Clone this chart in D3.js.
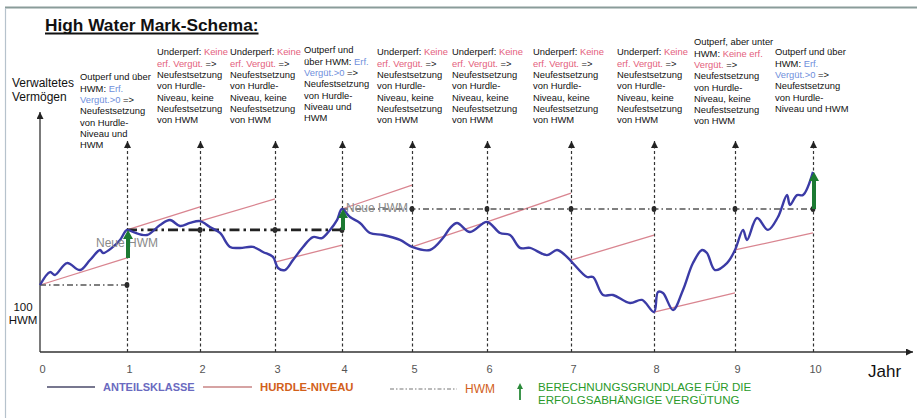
<!DOCTYPE html>
<html lang="de">
<head>
<meta charset="UTF-8">
<title>High Water Mark-Schema</title>
<script src="https://cdn.jsdelivr.net/npm/d3@7"></script>
<style>
    html, body {
        margin: 0;
        background: #fff;
    }
    svg {
        display: block;
        font-family: 'Liberation Sans', Arial, sans-serif;
    }
</style>
</head>
<body>
<div id="vis"></div>
<script>
// years on the x axis
var years = [0, 1, 2, 3, 4, 5, 6, 7, 8, 9, 10];

// Anteilsklasse: [Jahr, Wert], 100 = HWM at start
var anteil = [
    [0, 100], [0.115, 107.6], [0.172, 105.9], [0.31, 112.9], [0.46, 108.8], [0.575, 114.7],
    [0.69, 120.6], [0.724, 118.8], [0.839, 122.4], [0.92, 126.5], [1, 132.4],
    [1.082, 131.2], [1.274, 129.4], [1.452, 135.3], [1.589, 138.2], [1.726, 134.7], [1.863, 136.5], [2, 137.6],
    [2.133, 134.1], [2.267, 130.6], [2.4, 122.4], [2.533, 121.8], [2.707, 122.4], [2.84, 119.4], [2.973, 116.5],
    [3.045, 110.0], [3.149, 108.8], [3.269, 114.7], [3.418, 122.4], [3.567, 128.2], [3.701, 127.6],
    [3.821, 132.4], [3.925, 138.2], [4, 144.7],
    [4.114, 140.0], [4.257, 136.5], [4.4, 130.6], [4.586, 129.4], [4.829, 126.5], [5, 122.4],
    [5.24, 120.6], [5.413, 127.6], [5.507, 133.5], [5.6, 136.5], [5.773, 131.2], [6, 137.1],
    [6.155, 130.6], [6.274, 129.4], [6.393, 121.8], [6.512, 121.8], [6.714, 117.6], [6.833, 120.6],
    [6.929, 117.6], [7, 114.1],
    [7.193, 104.7], [7.265, 104.7], [7.386, 94.1], [7.506, 94.1], [7.711, 89.4], [7.855, 91.2], [8, 84.1],
    [8.049, 95.9], [8.111, 95.3], [8.235, 85.3], [8.358, 97.1], [8.481, 112.9], [8.593, 120.6],
    [8.654, 118.8], [8.753, 108.8], [8.901, 112.9], [9, 120.6],
    [9.103, 132.4], [9.154, 126.5], [9.282, 139.4], [9.423, 132.4], [9.551, 140.0], [9.667, 152.9],
    [9.705, 147.1], [9.795, 152.9], [9.872, 152.9], [10, 166.5]
];

// Hurdle-Niveau, one segment per year: [start year, start value, end value]
var hurdle = [
    [0, 100, 115.9], [1, 132.4, 145.9], [2, 137.6, 150.6], [3, 113.5, 123.5], [4, 144.7, 158.8],
    [5, 122.4, 137.1], [6, 137.1, 154.1], [7, 114.7, 129.4], [8, 84.1, 95.3], [9, 120.6, 130.6]
];

// HWM levels: [from year, to year, value]
var hwm = [[0, 1, 100], [1, 4, 132.4], [4, 10, 144.7]];

// Berechnungsgrundlage erfolgsabhängige Vergütung: [year, from, to]
var fee = [[1, 115.9, 132.4], [4, 132.4, 144.7], [10, 144.7, 166.5]];

// "Neue HWM" labels: [year, value]
var newHwm = [[1, 122.4], [4.5, 142.9]];

// annotations above each year, *...* is the coloured part
var notes = [
    {year: 1, kind: 'out', lines: ['Outperf und über', 'HWM: *Erf.*', '*Vergüt.>0* =>', 'Neufestsetzung', 'von Hurdle-', 'Niveau und', 'HWM']},
    {year: 2, kind: 'under', lines: ['Underperf: *Keine*', '*erf. Vergüt.* =>', 'Neufestsetzung', 'von Hurdle-', 'Niveau, keine', 'Neufestsetzung', 'von HWM']},
    {year: 3, kind: 'under', lines: ['Underperf: *Keine*', '*erf. Vergüt.* =>', 'Neufestsetzung', 'von Hurdle-', 'Niveau, keine', 'Neufestsetzung', 'von HWM']},
    {year: 4, kind: 'out', lines: ['Outperf und', 'über HWM: *Erf.*', '*Vergüt.>0* =>', 'Neufestsetzung', 'von Hurdle-', 'Niveau und', 'HWM']},
    {year: 5, kind: 'under', lines: ['Underperf: *Keine*', '*erf. Vergüt.* =>', 'Neufestsetzung', 'von Hurdle-', 'Niveau, keine', 'Neufestsetzung', 'von HWM']},
    {year: 6, kind: 'under', lines: ['Underperf: *Keine*', '*erf. Vergüt.* =>', 'Neufestsetzung', 'von Hurdle-', 'Niveau, keine', 'Neufestsetzung', 'von HWM']},
    {year: 7, kind: 'under', lines: ['Underperf: *Keine*', '*erf. Vergüt.* =>', 'Neufestsetzung', 'von Hurdle-', 'Niveau, keine', 'Neufestsetzung', 'von HWM']},
    {year: 8, kind: 'under', lines: ['Underperf: *Keine*', '*erf. Vergüt.* =>', 'Neufestsetzung', 'von Hurdle-', 'Niveau, keine', 'Neufestsetzung', 'von HWM']},
    {year: 9, kind: 'under', lines: ['Outperf, aber unter', 'HWM: *Keine erf.*', '*Vergüt.* =>', 'Neufestsetzung', 'von Hurdle-', 'Niveau, keine', 'Neufestsetzung', 'von HWM']},
    {year: 10, kind: 'out', lines: ['Outperf und über', 'HWM: *Erf.*', '*Vergüt.>0* =>', 'Neufestsetzung', 'von Hurdle-', 'Niveau und HWM']}
];

var width = 917,
    height = 418;

var svg = d3.select('#vis')
    .append('svg')
    .attr('width', width)
    .attr('height', height);

var axisY = 352,
    guideTop = 141;

// the year ticks of the original are not evenly spaced
var x = d3.scaleLinear()
    .domain(years)
    .range([40, 127, 200, 275, 342, 412, 487, 571, 654, 735, 813]);

var y = d3.scaleLinear()
    .domain([100, 150])
    .range([285, 200]);

var defs = svg.append('defs');
defs.append('marker')
    .attr('id', 'head')
    .attr('markerUnits', 'userSpaceOnUse')
    .attr('viewBox', '0 0 10 10')
    .attr('refX', 10)
    .attr('refY', 5)
    .attr('markerWidth', 8)
    .attr('markerHeight', 7)
    .attr('orient', 'auto')
    .append('path')
    .attr('d', 'M0,0L10,5L0,10z')
    .attr('fill', '#222');

// frame
svg.append('line')
    .attr('x1', 5).attr('x2', width)
    .attr('y1', 7.5).attr('y2', 7.5)
    .attr('stroke', '#8a9c9a').attr('stroke-width', 2);
svg.append('line')
    .attr('x1', 5.5).attr('x2', 5.5)
    .attr('y1', 8).attr('y2', height)
    .attr('stroke', '#b6c2cc').attr('stroke-width', 1.2);

// title
var title = svg.append('text')
    .attr('x', 45).attr('y', 31)
    .attr('font-size', 17.3).attr('font-weight', 'bold')
    .attr('fill', '#111')
    .text('High Water Mark-Schema:');
var tb = title.node().getBBox();
svg.append('line')
    .attr('x1', tb.x).attr('x2', tb.x + tb.width)
    .attr('y1', 33.5).attr('y2', 33.5)
    .attr('stroke', '#111').attr('stroke-width', 1.8);

// dashed guides with arrow heads at every year
svg.append('g')
    .attr('class', 'guides')
    .attr('transform', 'translate(0,' + axisY + ')')
    .call(d3.axisBottom(x).tickValues(years.slice(1)).tickSize(-(axisY - guideTop)).tickFormat(''))
    .call(function(g) {
        g.select('.domain').remove();
        g.selectAll('.tick line')
            .attr('stroke', '#333')
            .attr('stroke-width', 1.2)
            .attr('stroke-dasharray', '3,2.5')
            .attr('marker-end', 'url(#head)');
    });

// tick labels
svg.append('g')
    .attr('transform', 'translate(0,' + axisY + ')')
    .call(d3.axisBottom(x).tickValues(years).tickSize(0).tickPadding(13))
    .call(function(g) {
        g.select('.domain').remove();
        g.selectAll('text')
            .attr('dx', 2)
            .attr('fill', '#555')
            .attr('font-size', 11)
            .attr('font-family', "'Liberation Sans', Arial, sans-serif");
    });

// axes with arrows
svg.append('line')
    .attr('x1', x(0)).attr('x2', 913)
    .attr('y1', axisY).attr('y2', axisY)
    .attr('stroke', '#333').attr('stroke-width', 1.3)
    .attr('marker-end', 'url(#head)');
svg.append('line')
    .attr('x1', x(0)).attr('x2', x(0))
    .attr('y1', axisY).attr('y2', 112)
    .attr('stroke', '#333').attr('stroke-width', 1.3)
    .attr('marker-end', 'url(#head)');

// axis titles
svg.append('text')
    .attr('x', 12).attr('y', 87)
    .attr('font-size', 12).attr('fill', '#111')
    .selectAll('tspan')
    .data(['Verwaltetes', 'Vermögen'])
    .enter().append('tspan')
    .attr('x', 12)
    .attr('dy', function(d, i) { return i ? 14 : 0; })
    .text(function(d) { return d; });

svg.append('text')
    .attr('x', 23).attr('y', y(100) + 26)
    .attr('font-size', 11.5).attr('fill', '#111')
    .attr('text-anchor', 'middle')
    .selectAll('tspan')
    .data(['100', 'HWM'])
    .enter().append('tspan')
    .attr('x', 23)
    .attr('dy', function(d, i) { return i ? 13 : 0; })
    .text(function(d) { return d; });

svg.append('text')
    .attr('x', 868).attr('y', 377)
    .attr('font-size', 17).attr('fill', '#111')
    .text('Jahr');

// hurdle segments
svg.append('g')
    .selectAll('line')
    .data(hurdle)
    .enter().append('line')
    .attr('x1', function(d) { return x(d[0]); })
    .attr('x2', function(d) { return x(d[0] + 1); })
    .attr('y1', function(d) { return y(d[1]); })
    .attr('y2', function(d) { return y(d[2]); })
    .attr('stroke', '#d98590')
    .attr('stroke-width', 1.3);

// HWM levels
svg.append('g')
    .selectAll('line')
    .data(hwm)
    .enter().append('line')
    .attr('x1', function(d) { return x(d[0]); })
    .attr('x2', function(d) { return x(d[1]); })
    .attr('y1', function(d) { return y(d[2]); })
    .attr('y2', function(d) { return y(d[2]); })
    .attr('stroke', function(d, i) { return i === 1 ? '#222' : '#555'; })
    .attr('stroke-width', function(d, i) { return i === 1 ? 2.6 : 1.3; })
    .attr('stroke-dasharray', function(d, i) { return i === 1 ? '10,4,2.5,4' : '6,3,1.5,3'; });

var dots = [];
hwm.forEach(function(h) {
    for (var t = h[0] + 1; t <= h[1]; t++) dots.push([t, h[2]]);
});
svg.append('g')
    .selectAll('ellipse')
    .data(dots)
    .enter().append('ellipse')
    .attr('cx', function(d) { return x(d[0]); })
    .attr('cy', function(d) { return y(d[1]); })
    .attr('rx', 2.4).attr('ry', 3)
    .attr('fill', '#2a2a2a');

// Anteilsklasse
var line = d3.line()
    .x(function(d) { return x(d[0]); })
    .y(function(d) { return y(d[1]); })
    .curve(d3.curveCatmullRom.alpha(0.5));

svg.append('path')
    .datum(anteil)
    .attr('d', line)
    .attr('fill', 'none')
    .attr('stroke', '#3b3ba6')
    .attr('stroke-width', 2.4)
    .attr('stroke-linejoin', 'round');

// "Neue HWM"
svg.append('g')
    .selectAll('text')
    .data(newHwm)
    .enter().append('text')
    .attr('x', function(d) { return x(d[0]); })
    .attr('y', function(d) { return y(d[1]); })
    .attr('text-anchor', 'middle')
    .attr('font-size', 12)
    .attr('fill', '#8a8a8a')
    .text('Neue HWM');

// green arrows for the fee base
function arrowPath(cx, y0, y1, w, hw, hl) {
    return 'M' + (cx - w / 2) + ',' + y0 + 'L' + (cx - w / 2) + ',' + (y1 + hl) +
        'L' + (cx - hw / 2) + ',' + (y1 + hl) + 'L' + cx + ',' + y1 + 'L' + (cx + hw / 2) + ',' + (y1 + hl) +
        'L' + (cx + w / 2) + ',' + (y1 + hl) + 'L' + (cx + w / 2) + ',' + y0 + 'Z';
}
svg.append('g')
    .selectAll('path')
    .data(fee)
    .enter().append('path')
    .attr('d', function(d) {
        var len = y(d[1]) - y(d[2]);
        return arrowPath(x(d[0]) + 1, y(d[1]), y(d[2]), 4, 10, Math.min(9, len * 0.55));
    })
    .attr('fill', '#1c7a32');

// annotations
var noteTop = {1: 77, 9: 42, 4: 50};
var noteDx = {1: -47, 2: -43, 3: -45, 4: -38, 5: -35, 6: -35, 7: -38, 8: -37, 9: -41, 10: -38};
var accent = {out: '#6f8fdc', under: '#e4607c'};

var noteG = svg.append('g')
    .attr('font-size', 9.4)
    .attr('fill', '#111');

notes.forEach(function(n) {
    var left = x(n.year) + noteDx[n.year];
    var top = (noteTop[n.year] || 52) + 3.3;
    var t = noteG.append('text').attr('y', top);
    n.lines.forEach(function(l, li) {
        l.split('*').forEach(function(part, pi) {
            if (!part) return;
            var ts = t.append('tspan').text(part);
            if (pi === 0 || (pi === 1 && l.split('*')[0] === '')) {
                ts.attr('x', left).attr('dy', li ? 11.3 : 0);
            }
            if (pi % 2 === 1) ts.attr('fill', accent[n.kind]);
        });
    });
});

// legend
var lg = svg.append('g');
lg.append('line')
    .attr('x1', 47).attr('x2', 95).attr('y1', 387).attr('y2', 387)
    .attr('stroke', '#4a4a6a').attr('stroke-width', 1.3);
lg.append('text')
    .attr('x', 103).attr('y', 391)
    .attr('font-size', 11).attr('font-weight', 'bold')
    .attr('fill', '#6a6ac0')
    .text('ANTEILSKLASSE');
lg.append('line')
    .attr('x1', 203).attr('x2', 252).attr('y1', 387).attr('y2', 387)
    .attr('stroke', '#c98585').attr('stroke-width', 1.3);
lg.append('text')
    .attr('x', 260).attr('y', 391)
    .attr('font-size', 11.3).attr('font-weight', 'bold')
    .attr('fill', '#d2601a')
    .text('HURDLE-NIVEAU');
lg.append('line')
    .attr('x1', 390).attr('x2', 457).attr('y1', 389).attr('y2', 389)
    .attr('stroke', '#777').attr('stroke-width', 1.2)
    .attr('stroke-dasharray', '4,2,1.5,2');
lg.append('text')
    .attr('x', 465).attr('y', 393)
    .attr('font-size', 12)
    .attr('fill', '#d2601a')
    .text('HWM');
lg.append('path')
    .attr('d', arrowPath(520, 400, 383, 1.8, 6, 6))
    .attr('fill', '#2a8a3a');
lg.append('text')
    .attr('x', 538).attr('y', 391)
    .attr('font-size', 11.6)
    .attr('fill', '#2a9a2a')
    .selectAll('tspan')
    .data(['BERECHNUNGSGRUNDLAGE FÜR DIE', 'ERFOLGSABHÄNGIGE VERGÜTUNG'])
    .enter().append('tspan')
    .attr('x', 538)
    .attr('dy', function(d, i) { return i ? 12.5 : 0; })
    .text(function(d) { return d; });
</script>
</body>
</html>
